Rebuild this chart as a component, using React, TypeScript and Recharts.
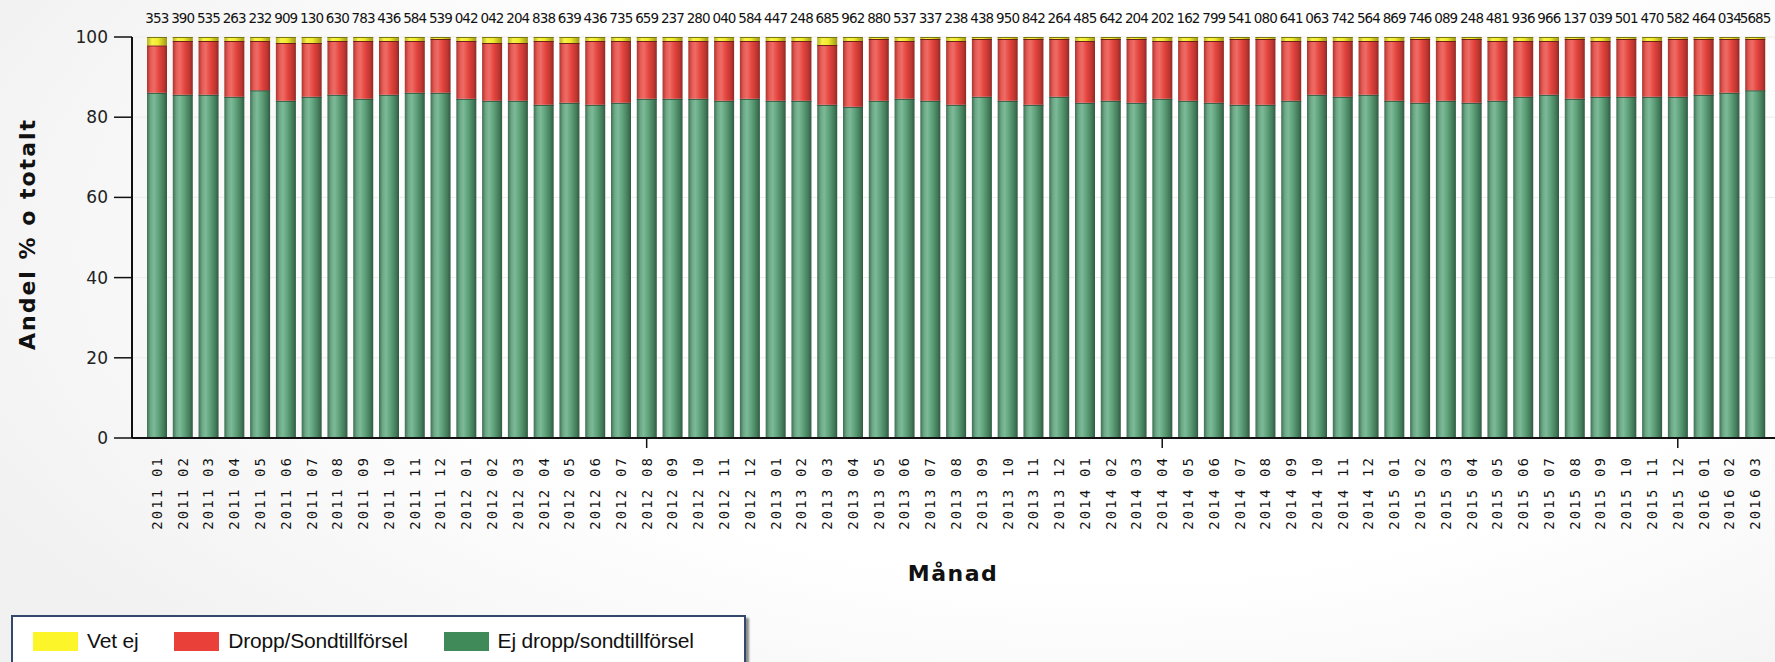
import React from "react";
import { BarChart, Bar, XAxis, YAxis, CartesianGrid } from "recharts";

const months = [
  "2011 01", "2011 02", "2011 03", "2011 04", "2011 05", "2011 06", "2011 07", "2011 08", "2011 09", "2011 10", "2011 11", "2011 12",
  "2012 01", "2012 02", "2012 03", "2012 04", "2012 05", "2012 06", "2012 07", "2012 08", "2012 09", "2012 10", "2012 11", "2012 12",
  "2013 01", "2013 02", "2013 03", "2013 04", "2013 05", "2013 06", "2013 07", "2013 08", "2013 09", "2013 10", "2013 11", "2013 12",
  "2014 01", "2014 02", "2014 03", "2014 04", "2014 05", "2014 06", "2014 07", "2014 08", "2014 09", "2014 10", "2014 11", "2014 12",
  "2015 01", "2015 02", "2015 03", "2015 04", "2015 05", "2015 06", "2015 07", "2015 08", "2015 09", "2015 10", "2015 11", "2015 12",
  "2016 01", "2016 02", "2016 03",
];

// Ej dropp/sondtillförsel (%)
const ejDropp = [
  86.1, 85.6, 85.6, 85.1, 86.7, 84.1, 85.1, 85.6, 84.6, 85.6, 86.1, 86.1,
  84.6, 84.1, 84.1, 83.1, 83.6, 83.1, 83.6, 84.6, 84.6, 84.6, 84.1, 84.6,
  84.1, 84.1, 83.1, 82.6, 84.1, 84.6, 84.1, 83.1, 85.1, 84.1, 83.1, 85.1,
  83.6, 84.1, 83.6, 84.6, 84.1, 83.6, 83.1, 83.1, 84.1, 85.6, 85.1, 85.6,
  84.1, 83.6, 84.1, 83.6, 84.1, 85.1, 85.6, 84.6, 85.1, 85.1, 85.1, 85.1,
  85.6, 86.1, 86.7,
];

// Dropp/Sondtillförsel (%)
const dropp = [
  11.8, 13.4, 13.4, 13.9, 12.3, 14.4, 13.4, 13.4, 14.4, 13.4, 12.9, 13.4,
  14.4, 14.4, 14.4, 15.9, 14.9, 15.9, 15.4, 14.4, 14.4, 14.4, 14.9, 14.4,
  14.9, 14.9, 14.9, 16.4, 15.4, 14.4, 15.4, 15.9, 14.4, 15.4, 16.4, 14.4,
  15.4, 15.4, 15.9, 14.4, 14.9, 15.4, 16.4, 16.4, 14.9, 13.4, 13.9, 13.4,
  14.9, 15.9, 14.9, 15.9, 14.9, 13.9, 13.4, 14.9, 13.9, 14.4, 13.9, 14.4,
  13.9, 13.4, 12.8,
];

// Vet ej (%)
const vetEj = [
  2.1, 1.0, 1.0, 1.0, 1.0, 1.5, 1.5, 1.0, 1.0, 1.0, 1.0, 0.5,
  1.0, 1.5, 1.5, 1.0, 1.5, 1.0, 1.0, 1.0, 1.0, 1.0, 1.0, 1.0,
  1.0, 1.0, 2.0, 1.0, 0.5, 1.0, 0.5, 1.0, 0.5, 0.5, 0.5, 0.5,
  1.0, 0.5, 0.5, 1.0, 1.0, 1.0, 0.5, 0.5, 1.0, 1.0, 1.0, 1.0,
  1.0, 0.5, 1.0, 0.5, 1.0, 1.0, 1.0, 0.5, 1.0, 0.5, 1.0, 0.5,
  0.5, 0.5, 0.5,
];

// antal (overlapping labels above the bars)
const topLabels = [
  "353", "390", "535", "263", "232", "909", "130", "630", "783", "436", "584", "539",
  "042", "042", "204", "838", "639", "436", "735", "659", "237", "280", "040", "584",
  "447", "248", "685", "962", "880", "537", "337", "238", "438", "950", "842", "264",
  "485", "642", "204", "202", "162", "799", "541", "080", "641", "063", "742", "564",
  "869", "746", "089", "248", "481", "936", "966", "137", "039", "501", "470", "582",
  "464", "034", "5685",
];

const yTicks = [0, 20, 40, 60, 80, 100];
const majorTickIdx = [19, 39, 59];

const data = months.map((m, i) => ({
  month: m,
  label: topLabels[i],
  ej: ejDropp[i],
  dropp: dropp[i],
  vet: vetEj[i],
}));

const cylinder = (gradId: string, edge: string) => (props: any) => {
  const { x, y, width, height } = props;
  if (!height || height <= 0) return <g />;
  return (
    <g>
      <rect x={x} y={y} width={width} height={height} fill={`url(#${gradId})`} />
      <line x1={x} x2={x + width} y1={y + 0.5} y2={y + 0.5} stroke={edge} strokeWidth={1} />
    </g>
  );
};

function MonthTick(props: any) {
  const { x, y, payload, index } = props;
  const idx = payload?.index ?? index;
  return (
    <g>
      {majorTickIdx.includes(idx) && (
        <line x1={x} x2={x} y1={y - 8} y2={y + 2} stroke="#111" strokeWidth={1.5} />
      )}
      <text
        x={x}
        y={y + 10}
        transform={`rotate(-90 ${x} ${y + 10})`}
        textAnchor="end"
        dominantBaseline="central"
        fontFamily="'DejaVu Sans Mono', monospace"
        fontSize={14}
        letterSpacing={2.1}
        fill="#111"
      >
        {payload.value}
      </text>
    </g>
  );
}

function TopTick(props: any) {
  const { x, payload } = props;
  return (
    <text
      x={x}
      y={23}
      textAnchor="middle"
      fontFamily="'DejaVu Sans', sans-serif"
      fontSize={13.5}
      letterSpacing={-0.9}
      fill="#111"
    >
      {payload.value}
    </text>
  );
}

const legendItems = [
  { name: "Vet ej", color: "#fbf52a" },
  { name: "Dropp/Sondtillförsel", color: "#e9403a" },
  { name: "Ej dropp/sondtillförsel", color: "#3f8a58" },
];

export default function App() {
  return (
    <div
      style={{
        position: "absolute",
        left: 0,
        top: 0,
        width: 1775,
        height: 662,
        overflow: "hidden",
        background: "radial-gradient(ellipse 70% 90% at 62% 38%, #ffffff 55%, #f1f1f1 100%)",
        fontFamily: "'DejaVu Sans', sans-serif",
      }}
    >
      <BarChart
        width={1775}
        height={600}
        data={data}
        margin={{ top: 7, right: 0, bottom: 42, left: 0 }}
        barSize={20}
        style={{ position: "absolute", left: 0, top: 0 }}
      >
        <defs>
          <linearGradient id="gGreen" x1="0" x2="1" y1="0" y2="0">
            <stop offset="0%" stopColor="#3f6f54" />
            <stop offset="18%" stopColor="#6ca886" />
            <stop offset="35%" stopColor="#7cba98" />
            <stop offset="60%" stopColor="#5c9f78" />
            <stop offset="85%" stopColor="#437a59" />
            <stop offset="100%" stopColor="#2f5a41" />
          </linearGradient>
          <linearGradient id="gRed" x1="0" x2="1" y1="0" y2="0">
            <stop offset="0%" stopColor="#a93430" />
            <stop offset="18%" stopColor="#e75a54" />
            <stop offset="35%" stopColor="#ee6c66" />
            <stop offset="60%" stopColor="#e4443d" />
            <stop offset="85%" stopColor="#bd3631" />
            <stop offset="100%" stopColor="#8f2824" />
          </linearGradient>
          <linearGradient id="gYellow" x1="0" x2="1" y1="0" y2="0">
            <stop offset="0%" stopColor="#b5b020" />
            <stop offset="25%" stopColor="#f8f24a" />
            <stop offset="55%" stopColor="#f1eb2c" />
            <stop offset="100%" stopColor="#9c9818" />
          </linearGradient>
        </defs>
        <CartesianGrid vertical={false} stroke="#ececec" />
        <XAxis
          dataKey="month"
          interval={0}
          height={120}
          padding={{ left: 12, right: 7 }}
          tick={<MonthTick />}
          tickLine={false}
          axisLine={{ stroke: "#111", strokeWidth: 2 }}
        />
        <XAxis
          xAxisId="top"
          orientation="top"
          dataKey="label"
          interval={0}
          height={30}
          padding={{ left: 12, right: 7 }}
          tick={<TopTick />}
          tickLine={false}
          axisLine={false}
        />
        <YAxis
          type="number"
          domain={[0, 100]}
          ticks={yTicks}
          width={132}
          tickSize={18}
          tickMargin={6}
          tick={{ fill: "#222", fontSize: 17, fontFamily: "'DejaVu Sans', sans-serif" }}
          tickLine={{ stroke: "#111", strokeWidth: 1.5 }}
          axisLine={{ stroke: "#111", strokeWidth: 2 }}
        />
        <Bar dataKey="ej" stackId="a" shape={cylinder("gGreen", "#2d4f3a")} isAnimationActive={false} />
        <Bar dataKey="dropp" stackId="a" shape={cylinder("gRed", "#6e1d1a")} isAnimationActive={false} />
        <Bar dataKey="vet" stackId="a" shape={cylinder("gYellow", "#7a7610")} isAnimationActive={false} />
      </BarChart>

      <div
        style={{
          position: "absolute",
          left: 27,
          top: 234,
          transform: "translate(-50%, -50%) rotate(-90deg)",
          whiteSpace: "nowrap",
          fontWeight: "bold",
          fontSize: 22,
          letterSpacing: 2,
          color: "#111",
        }}
      >
        Andel % o totalt
      </div>
      <div
        style={{
          position: "absolute",
          left: 953,
          top: 573,
          transform: "translate(-50%, -50%)",
          fontWeight: "bold",
          fontSize: 22,
          letterSpacing: 1.5,
          color: "#111",
        }}
      >
        Månad
      </div>

      <div
        style={{
          position: "absolute",
          left: 11,
          top: 615,
          width: 735,
          height: 60,
          border: "2px solid #34486b",
          background: "#ffffff",
          boxShadow: "3px 3px 2px #8a8a8a",
          display: "flex",
          alignItems: "flex-start",
          paddingTop: 12,
          boxSizing: "border-box",
          fontFamily: "'Liberation Sans', Arial, sans-serif",
          fontSize: 21,
          letterSpacing: -0.2,
          color: "#111",
        }}
      >
        {legendItems.map((it, i) => (
          <div key={it.name} style={{ display: "flex", alignItems: "center", marginLeft: i === 0 ? 20 : 36 }}>
            <div style={{ width: 45, height: 19, background: it.color, marginRight: 9 }} />
            <span>{it.name}</span>
          </div>
        ))}
      </div>
    </div>
  );
}
